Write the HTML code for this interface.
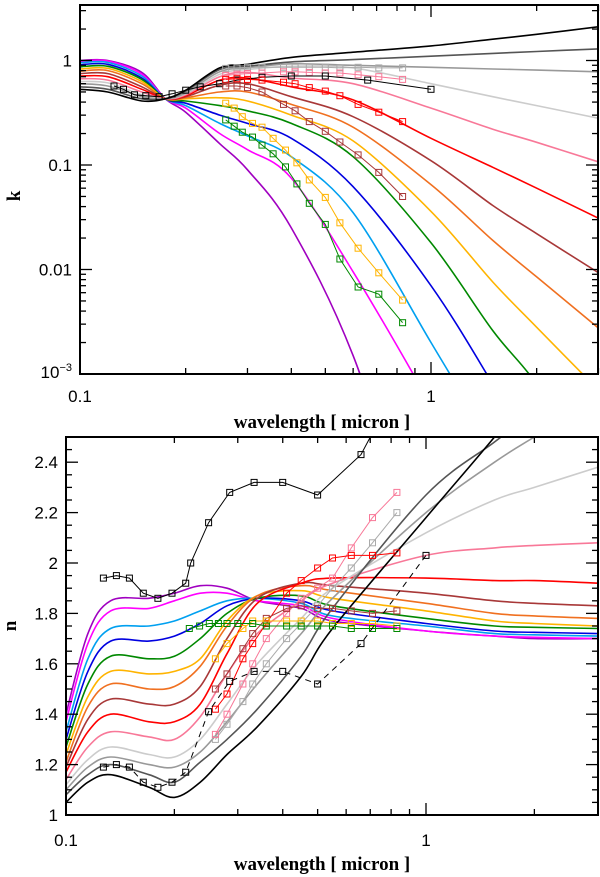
<!DOCTYPE html>
<html><head><meta charset="utf-8">
<style>
html,body{margin:0;padding:0;background:#fff;}
svg{display:block;}
text{font-family:"Liberation Sans",sans-serif;fill:#000;}
.tl{font-size:17px;}
.ttl{font-family:"Liberation Serif",serif;font-size:19px;font-weight:bold;}
</style></head>
<body>
<svg id="chart" width="600" height="877" viewBox="0 0 600 877" xmlns="http://www.w3.org/2000/svg">
<defs>
<clipPath id="clipK"><rect x="80" y="5" width="518" height="369"/></clipPath>
<clipPath id="clipN"><rect x="66" y="437" width="532" height="378"/></clipPath>
</defs>
<g id="kpanel"></g>
<g id="npanel"></g>
</svg>
<script>
// ---------- data ----------
const colors = ["#000000","#555555","#999999","#cccccc","#f87898","#ff0000","#a83838","#f07020","#ffb400","#008800","#0000e0","#00a0f0","#ff00ff","#a000c0"];
const seriesNames = ["black","dark-gray","gray","light-gray","pink","red","brown","orange","gold","green","blue","sky-blue","magenta","purple"];
const kGrid = [0.1,0.12,0.15,0.175,0.2,0.25,0.3,0.4,0.6,1,1.5,2,3];
const k0  = [0.53,0.5,0.41,0.43,0.52,0.85,0.92,1.07,1.2,1.38,1.6,1.78,2.1];
const k1  = [0.56,0.53,0.43,0.43,0.51,0.82,0.88,0.97,1.02,1.1,1.17,1.22,1.29];
const k2  = [0.6,0.57,0.45,0.43,0.49,0.78,0.85,0.93,0.9,0.86,0.83,0.81,0.78];
const k3  = [0.63,0.61,0.47,0.43,0.48,0.74,0.82,0.88,0.85,0.6,0.45,0.37,0.28];
const k4  = [0.67,0.65,0.5,0.43,0.47,0.7,0.77,0.68,0.6,0.35,0.22,0.165,0.107];
const k5  = [0.71,0.7,0.53,0.43,0.46,0.65,0.68,0.56,0.42,0.18,0.095,0.06,0.031];
const k6  = [0.75,0.75,0.56,0.43,0.45,0.58,0.6,0.45,0.29,0.11,0.041,0.022,0.0093];
const k7  = [0.79,0.8,0.6,0.43,0.44,0.5,0.5,0.38,0.23,0.065,0.019,0.0085,0.00275];
const k8  = [0.83,0.84,0.63,0.43,0.43,0.44,0.41,0.3,0.17,0.036,0.0076,0.0028,0.0007];
const k9  = [0.87,0.88,0.66,0.43,0.41,0.37,0.33,0.25,0.12,0.018,0.0026,0.0008,0.0001];
const k10 = [0.91,0.92,0.68,0.43,0.39,0.3,0.25,0.18,0.062,0.007,0.0008,0.00015,0.00002];
const k11 = [0.95,0.96,0.71,0.43,0.37,0.25,0.19,0.12,0.035,0.002,0.0002,0.00003,0.000005];
const k12 = [0.98,0.99,0.74,0.43,0.35,0.2,0.14,0.075,0.0095,0.0005,0.00004,0.000008,0.000001];
const k13 = [1.0,1.0,0.77,0.43,0.32,0.16,0.09,0.025,0.0015,0.00001,0.000001,0.0000001,0.00000001];
const kSeries = [k0,k1,k2,k3,k4,k5,k6,k7,k8,k9,k10,k11,k12,k13];

const nGrid = [0.1,0.115,0.133,0.17,0.2,0.236,0.28,0.34,0.45,0.55,1,1.55,2,3];
const n0  = [1.05,1.13,1.16,1.11,1.07,1.13,1.24,1.35,1.55,1.74,2.18,2.5,2.7,3.0];
const n1  = [1.08,1.16,1.2,1.16,1.13,1.21,1.3,1.42,1.63,1.82,2.27,2.48,2.6,2.8];
const n2  = [1.10,1.19,1.23,1.2,1.19,1.25,1.37,1.52,1.72,1.86,2.2,2.4,2.5,2.65];
const n3  = [1.12,1.22,1.27,1.24,1.23,1.30,1.44,1.60,1.78,1.9,2.12,2.25,2.3,2.38];
const n4  = [1.14,1.27,1.33,1.31,1.30,1.39,1.56,1.72,1.85,1.92,2.03,2.06,2.07,2.08];
const n5  = [1.17,1.33,1.40,1.37,1.37,1.44,1.64,1.84,1.92,1.94,1.94,1.93,1.93,1.92];
const n6  = [1.19,1.38,1.46,1.44,1.44,1.51,1.7,1.86,1.92,1.91,1.88,1.85,1.84,1.83];
const n7  = [1.21,1.43,1.52,1.5,1.51,1.59,1.75,1.87,1.91,1.89,1.84,1.8,1.79,1.78];
const n8  = [1.24,1.47,1.57,1.56,1.57,1.62,1.77,1.87,1.89,1.86,1.81,1.77,1.76,1.75];
const n9  = [1.27,1.52,1.63,1.62,1.63,1.70,1.8,1.86,1.87,1.83,1.78,1.75,1.745,1.74];
const n10 = [1.30,1.57,1.69,1.69,1.71,1.76,1.83,1.86,1.85,1.81,1.76,1.73,1.725,1.72];
const n11 = [1.33,1.62,1.74,1.75,1.77,1.81,1.85,1.86,1.84,1.79,1.75,1.72,1.715,1.71];
const n12 = [1.37,1.68,1.81,1.82,1.85,1.88,1.88,1.85,1.83,1.78,1.73,1.71,1.705,1.70];
const n13 = [1.40,1.72,1.85,1.86,1.88,1.91,1.9,1.85,1.82,1.77,1.73,1.71,1.70,1.70];
const nSeries = [n0,n1,n2,n3,n4,n5,n6,n7,n8,n9,n10,n11,n12,n13];

// marker series (k panel)
const mkLamA = [0.26,0.28,0.3,0.33,0.38,0.41,0.45,0.5,0.55,0.62,0.71,0.83];
const mkLamB = [0.26,0.275,0.29,0.31,0.33,0.355,0.385,0.415,0.45,0.5,0.55,0.62,0.71,0.83];
const mkBlackLam = [0.125,0.133,0.143,0.154,0.168,0.183,0.2,0.22,0.25,0.28,0.33,0.4,0.5,0.66,1.0];
const mkBlackK = [0.57,0.53,0.47,0.46,0.45,0.48,0.52,0.56,0.6,0.65,0.69,0.71,0.71,0.65,0.53];
const mkGrayK  = [0.84,0.85,0.86,0.86,0.86,0.86,0.86,0.86,0.85,0.86,0.85,0.85];
const mkPinkK  = [0.72,0.74,0.75,0.76,0.78,0.78,0.77,0.76,0.76,0.73,0.7,0.66];
const mkRedK   = [0.66,0.67,0.66,0.65,0.62,0.6,0.55,0.51,0.46,0.38,0.32,0.26];
const mkBrownK = [0.57,0.57,0.55,0.5,0.38,0.33,0.26,0.21,0.166,0.125,0.085,0.05];
const mkGoldK  = [0.39,0.35,0.29,0.25,0.23,0.18,0.139,0.105,0.072,0.049,0.028,0.016,0.0093,0.0051];
const mkGreenK = [0.27,0.235,0.206,0.185,0.155,0.128,0.096,0.066,0.043,0.027,0.0126,0.0068,0.0058,0.0031];

// marker series (n panel)
const mnTopLam = [0.127,0.138,0.15,0.164,0.18,0.197,0.215,0.222,0.249,0.285,0.333,0.4,0.5,0.66,0.75];
const mnTopN   = [1.94,1.95,1.94,1.88,1.86,1.88,1.92,2.0,2.16,2.28,2.32,2.32,2.27,2.43,2.58];
const mnLowLam = [0.127,0.138,0.15,0.164,0.18,0.197,0.215,0.249,0.285,0.333,0.4,0.5,0.66,1.0];
const mnLowN   = [1.19,1.2,1.19,1.13,1.11,1.13,1.17,1.41,1.53,1.57,1.57,1.52,1.68,2.03];
const mnLamA = [0.26,0.28,0.31,0.33,0.36,0.41,0.45,0.5,0.55,0.62,0.71,0.83];
const mnRedN   = [1.42,1.48,1.62,1.68,1.76,1.88,1.93,1.98,2.02,2.03,2.03,2.04];
const mnPinkN  = [1.32,1.4,1.52,1.6,1.7,1.8,1.86,1.9,1.94,2.06,2.18,2.28];
const mnGrayN  = [1.3,1.36,1.45,1.52,1.6,1.7,1.76,1.83,1.9,1.98,2.08,2.2];
const mnBrownN = [1.5,1.56,1.66,1.72,1.78,1.82,1.83,1.82,1.82,1.81,1.80,1.81];
const mnGoldN  = [1.62,1.68,1.74,1.77,1.77,1.77,1.77,1.77,1.76,1.76,1.76,1.75];
const mnGreenLam = [0.22,0.235,0.25,0.265,0.28,0.3,0.33,0.36,0.41,0.45,0.5,0.55,0.62,0.71,0.83];
const mnGreenN = [1.74,1.75,1.76,1.76,1.76,1.76,1.76,1.75,1.75,1.75,1.75,1.75,1.74,1.74,1.74];

const kTickVals = [1,0.1,0.01];
const kTickLabels = ["1","0.1","0.01"];
const nTickVals = [1,1.2,1.4,1.6,1.8,2,2.2,2.4];
const nTickLabels = ["1","1.2","1.4","1.6","1.8","2","2.2","2.4"];

// ---------- axes ----------
const NS = "http://www.w3.org/2000/svg";
const KX0=80,KX1=598,KY0=5,KY1=374;
const NX0=66,NX1=598,NY0=437,NY1=815;
function xK(l){return KX0+351*Math.log10(l/0.1);}
function yK(k){return KY1-104.5*(Math.log10(k)+3);}
function xN(l){return NX0+360*Math.log10(l/0.1);}
function yN(n){return NY1-252*(n-1);}

function el(tag,attrs,parent){const e=document.createElementNS(NS,tag);for(const a in attrs)e.setAttribute(a,attrs[a]);parent.appendChild(e);return e;}

function smoothPath(pts){
  let d="M"+pts[0][0].toFixed(1)+","+pts[0][1].toFixed(1);
  for(let i=0;i<pts.length-1;i++){
    const p0=pts[Math.max(0,i-1)],p1=pts[i],p2=pts[i+1],p3=pts[Math.min(pts.length-1,i+2)];
    const c1=[p1[0]+(p2[0]-p0[0])/6,p1[1]+(p2[1]-p0[1])/6];
    const c2=[p2[0]-(p3[0]-p1[0])/6,p2[1]-(p3[1]-p1[1])/6];
    d+=" C"+c1[0].toFixed(1)+","+c1[1].toFixed(1)+" "+c2[0].toFixed(1)+","+c2[1].toFixed(1)+" "+p2[0].toFixed(1)+","+p2[1].toFixed(1);
  }
  return d;
}
function polyPath(pts){return "M"+pts.map(p=>p[0].toFixed(1)+","+p[1].toFixed(1)).join(" L");}

function markers(g,pts,color,name){
  pts.forEach(p=>{
    const r=el("rect",{x:(p[0]-3).toFixed(1),y:(p[1]-3).toFixed(1),width:6,height:6,fill:"none",stroke:color,"stroke-width":1},g);
    
    
  });
}

function logXTicks(g,x0,x1,y0,y1,xf){
  for(let dec=0.1;dec<=1;dec*=10){
    for(let m=1;m<=9;m++){
      const l=dec*m; if(l>3.001) break;
      const x=xf(l); if(x<x0-0.5||x>x1+0.5) continue;
      const len=m===1?12:6;
      el("line",{x1:x,y1:y1,x2:x,y2:y1-len,stroke:"#000","stroke-width":1.3},g);
      el("line",{x1:x,y1:y0,x2:x,y2:y0+len,stroke:"#000","stroke-width":1.3},g);
    }
  }
}

// ---------- K panel ----------
const kp=document.getElementById("kpanel");
const kc=el("g",{"clip-path":"url(#clipK)"},kp);


for(let s=kSeries.length-1;s>=0;s--){
  const pts=kGrid.map((l,i)=>[xK(l),yK(kSeries[s][i])]);
  const p=el("path",{d:smoothPath(pts),fill:"none",stroke:colors[s],"stroke-width":1.6},kc);
  
  
}
function kMarkSeries(lams,vals,color,name){
  const g=el("g",{},kc);
  
  
  const pts=lams.map((l,i)=>[xK(l),yK(vals[i])]);
  el("path",{d:polyPath(pts),fill:"none",stroke:color,"stroke-width":1},g);
  markers(g,pts,color,name);
}
kMarkSeries(mkLamA,mkGrayK,"#aaaaaa","k-markers-gray");
kMarkSeries(mkLamA,mkPinkK,"#f87898","k-markers-pink");
kMarkSeries(mkBlackLam,mkBlackK,"#000000","k-markers-black");
kMarkSeries(mkLamA,mkRedK,"#ff0000","k-markers-red");
kMarkSeries(mkLamA,mkBrownK,"#a83838","k-markers-brown");
kMarkSeries(mkLamB,mkGoldK,"#ffb400","k-markers-gold");
kMarkSeries(mkLamB,mkGreenK,"#008800","k-markers-green");

const kframe=el("rect",{x:KX0,y:KY0,width:KX1-KX0,height:KY1-KY0,fill:"none",stroke:"#000","stroke-width":2},kp);


logXTicks(kp,KX0,KX1,KY0,KY1,xK);
for(let e=-3;e<=0;e++){
  for(let m=1;m<=9;m++){
    const v=m*Math.pow(10,e); const y=yK(v); if(y<KY0) break;
    const len=m===1?12:6;
    el("line",{x1:KX0,y1:y,x2:KX0+len,y2:y,stroke:"#000","stroke-width":1.3},kp);
    el("line",{x1:KX1,y1:y,x2:KX1-len,y2:y,stroke:"#000","stroke-width":1.3},kp);
  }
}
kTickVals.forEach((v,i)=>{
  const t=el("text",{x:72,y:yK(v)+6,"text-anchor":"end",class:"tl"},kp);
  t.textContent=kTickLabels[i];
  
  
});
{
  const t=el("text",{x:72,y:yK(0.001)+4,"text-anchor":"end",class:"tl"},kp);
  
  
  t.innerHTML='10<tspan dy="-7" font-size="11">−3</tspan>';
}
[[0.1,"0.1"],[1,"1"]].forEach(a=>{
  const t=el("text",{x:xK(a[0]),y:402,"text-anchor":"middle",class:"tl"},kp);
  t.textContent=a[1];
  
  
});
{
  const t=el("text",{x:322,y:428,"text-anchor":"middle",class:"ttl"},kp);
  t.textContent="wavelength [ micron ]";
  
  
  const y=el("text",{x:20,y:196,"text-anchor":"middle",class:"ttl",transform:"rotate(-90 20 196)"},kp);
  y.textContent="k";
  
  
}

// ---------- N panel ----------
const np=document.getElementById("npanel");
const nc=el("g",{"clip-path":"url(#clipN)"},np);


for(let s=nSeries.length-1;s>=0;s--){
  const pts=nGrid.map((l,i)=>[xN(l),yN(nSeries[s][i])]);
  const p=el("path",{d:smoothPath(pts),fill:"none",stroke:colors[s],"stroke-width":1.6},nc);
  
  
}
function nMarkSeries(lams,vals,color,name,dash){
  const g=el("g",{},nc);
  
  
  const pts=lams.map((l,i)=>[xN(l),yN(vals[i])]);
  const a={d:polyPath(pts),fill:"none",stroke:color,"stroke-width":1};
  if(dash)a["stroke-dasharray"]="6,5";
  el("path",a,g);
  markers(g,pts,color,name);
}
nMarkSeries(mnLamA,mnGrayN,"#aaaaaa","n-markers-gray");
nMarkSeries(mnLamA,mnPinkN,"#f87898","n-markers-pink");
nMarkSeries(mnLamA,mnRedN,"#ff0000","n-markers-red");
nMarkSeries(mnLamA,mnBrownN,"#a83838","n-markers-brown");
nMarkSeries(mnLamA,mnGoldN,"#ffb400","n-markers-gold");
nMarkSeries(mnGreenLam,mnGreenN,"#008800","n-markers-green");
nMarkSeries(mnTopLam,mnTopN,"#000000","n-markers-black-upper");
nMarkSeries(mnLowLam,mnLowN,"#000000","n-markers-black-lower",true);

const nframe=el("rect",{x:NX0,y:NY0,width:NX1-NX0,height:NY1-NY0,fill:"none",stroke:"#000","stroke-width":2},np);


logXTicks(np,NX0,NX1,NY0,NY1,xN);
for(let i=0;i<=30;i++){
  const v=1+i*0.05; const y=yN(v);
  const len=(i%4===0)?12:6;
  el("line",{x1:NX0,y1:y,x2:NX0+len,y2:y,stroke:"#000","stroke-width":1.3},np);
  el("line",{x1:NX1,y1:y,x2:NX1-len,y2:y,stroke:"#000","stroke-width":1.3},np);
}
nTickVals.forEach((v,i)=>{
  const t=el("text",{x:58,y:yN(v)+6,"text-anchor":"end",class:"tl"},np);
  t.textContent=nTickLabels[i];
  
  
});
[[0.1,"0.1"],[1,"1"]].forEach(a=>{
  const t=el("text",{x:xN(a[0]),y:846,"text-anchor":"middle",class:"tl"},np);
  t.textContent=a[1];
  
  
});
{
  const t=el("text",{x:322,y:870,"text-anchor":"middle",class:"ttl"},np);
  t.textContent="wavelength [ micron ]";
  
  
  const y=el("text",{x:16,y:626,"text-anchor":"middle",class:"ttl",transform:"rotate(-90 16 626)"},np);
  y.textContent="n";
  
  
}
</script>
</body></html>
